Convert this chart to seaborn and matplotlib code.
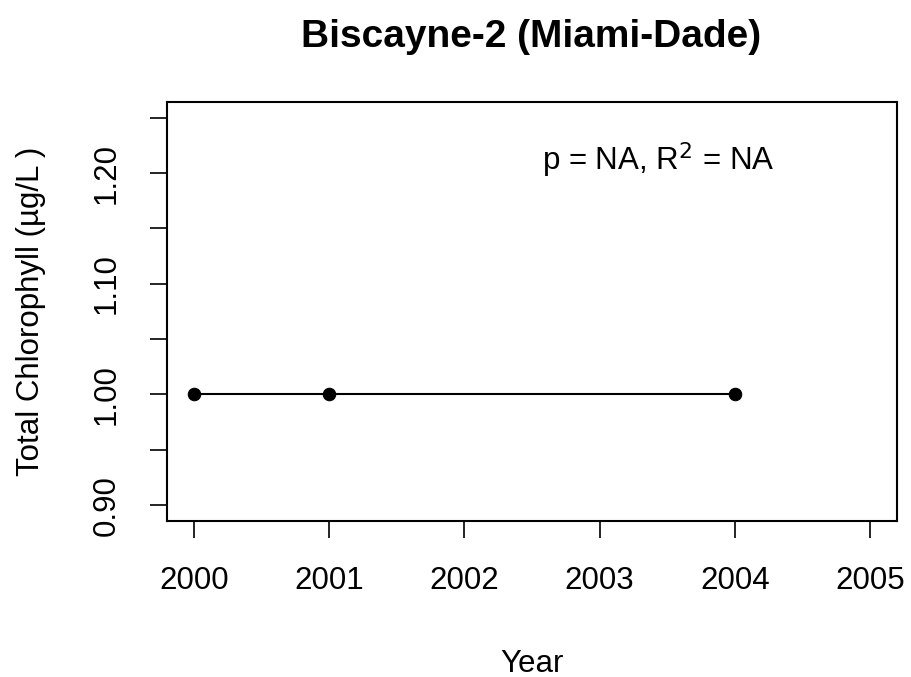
import pandas as pd
import seaborn as sns
import matplotlib.pyplot as plt

years = [2000, 2001, 2004]
chlorophyll = [1.00, 1.00, 1.00]
y_ticks = [0.90, 0.95, 1.00, 1.05, 1.10, 1.15, 1.20, 1.25]
y_labels = ["0.90", "", "1.00", "", "1.10", "", "1.20", ""]
x_ticks = [2000, 2001, 2002, 2003, 2004, 2005]

df = pd.DataFrame({"Year": years, "Chl": chlorophyll})

sns.set_style("white")
plt.rcParams['font.family'] = ['Liberation Sans', 'DejaVu Sans']
plt.rcParams['text.color'] = 'black'
plt.rcParams['axes.labelcolor'] = 'black'
plt.rcParams['xtick.color'] = 'black'
plt.rcParams['ytick.color'] = 'black'

fig = plt.figure(figsize=(9.11, 6.77), dpi=100)
ax = fig.add_axes([0.183, 0.231, 0.802, 0.618])

sns.lineplot(data=df, x="Year", y="Chl", color="black", marker="o",
             markersize=9, markeredgecolor="black", linewidth=1.5, ax=ax)

ax.set_xlim(1999.8, 2005.2)
ax.set_ylim(0.886, 1.264)
ax.set_xticks(x_ticks)
ax.set_xticklabels([str(x) for x in x_ticks], fontsize=22.5)
ax.set_yticks(y_ticks)
ax.set_yticklabels(y_labels, fontsize=22.5, rotation=90, va="center")
ax.tick_params(direction="out", length=12.5, width=1.2, color="black", pad=20, bottom=True, left=True)
for s in ax.spines.values():
    s.set_color("black")
    s.set_linewidth(1.5)

ax.set_xlabel("Year", fontsize=22.5, labelpad=38)
ax.set_ylabel("Total Chlorophyll (µg/L )", fontsize=22.5, labelpad=33)
ax.text(0.673, 0.862, r"p = NA, R$^2$ = NA", transform=ax.transAxes, fontsize=22.5, ha="center", va="center")
fig.suptitle("Biscayne-2 (Miami-Dade)", fontsize=28, fontweight="bold", x=0.583, y=0.972)

fig.savefig("out.png", dpi=100)
